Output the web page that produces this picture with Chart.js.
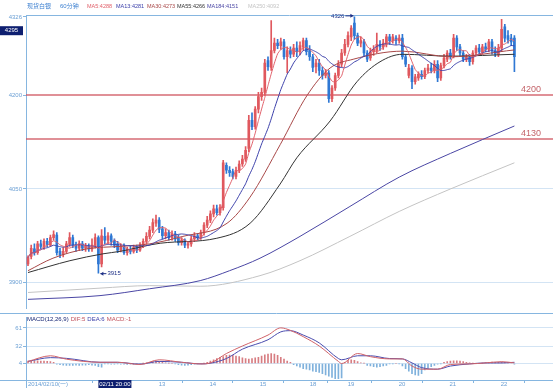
<!DOCTYPE html>
<html>
<head>
<meta charset="utf-8">
<script src="https://cdn.jsdelivr.net/npm/chart.js@4.4.0/dist/chart.umd.min.js"></script>
<style>
  body { margin: 0; background: #fff; }
  #wrap { position: relative; width: 553px; height: 388px; }
  canvas { position: absolute; left: 0; }
</style>
</head>
<body>
<div id="wrap">
  <canvas id="priceChart" width="553" height="313" style="top:0"></canvas>
  <canvas id="macdChart" width="553" height="75" style="top:313px"></canvas>
</div>
<script>
// hourly candles, 02/10 .. 02/22
const openP = [
  3930, 3942, 3954, 3948, 3962, 3957, 3966, 3960, 3972, 3976, 3950, 3945, 3950, 3961, 3972, 3960, 3955, 3962, 3955, 3958,
  3954, 3959, 3972, 3930, 3974, 3968, 3975, 3966, 3962, 3952, 3958, 3948, 3953, 3950, 3956, 3952, 3960, 3966, 3974, 3984,
  3995, 4000, 3986, 3975, 3980, 3972, 3978, 3972, 3964, 3968, 3960, 3962, 3970, 3975, 3972, 3980, 3992, 4000, 4010, 4018,
  4012, 4020, 4088, 4080, 4078, 4070, 4080, 4090, 4098, 4115, 4160, 4150, 4178, 4198, 4205, 4256, 4245, 4272, 4284, 4280,
  4286, 4262, 4272, 4266, 4276, 4270, 4278, 4288, 4272, 4262, 4246, 4252, 4240, 4232, 4236, 4195, 4212, 4232, 4250, 4268,
  4282, 4294, 4316, 4296, 4284, 4286, 4268, 4260, 4270, 4272, 4282, 4278, 4282, 4294, 4288, 4292, 4288, 4292, 4262, 4232,
  4244, 4222, 4228, 4234, 4230, 4240, 4244, 4240, 4250, 4228, 4248, 4258, 4268, 4264, 4292, 4278, 4268, 4258, 4262, 4254,
  4268, 4276, 4270, 4278, 4274, 4286, 4272, 4266, 4276, 4310, 4296, 4292, 4292
];
const highP = [
  3943, 3960, 3962, 3966, 3968, 3970, 3971, 3976, 3983, 3980, 3955, 3956, 3966, 3980, 3976, 3965, 3967, 3966, 3963, 3962,
  3970, 3978, 3975, 3985, 3988, 3980, 3978, 3970, 3966, 3962, 3962, 3957, 3958, 3960, 3960, 3964, 3970, 3980, 3990, 4002,
  4008, 4004, 3990, 3986, 3984, 3983, 3982, 3976, 3972, 3970, 3966, 3974, 3980, 3978, 3984, 3996, 4006, 4015, 4024, 4024,
  4025, 4096, 4092, 4086, 4082, 4085, 4095, 4104, 4118, 4168, 4172, 4182, 4205, 4212, 4258, 4262, 4320, 4292, 4290, 4292,
  4290, 4278, 4278, 4282, 4286, 4286, 4292, 4292, 4280, 4266, 4258, 4258, 4246, 4242, 4240, 4216, 4236, 4256, 4274, 4290,
  4302, 4312, 4326, 4300, 4294, 4290, 4272, 4276, 4280, 4300, 4288, 4290, 4298, 4298, 4298, 4296, 4297, 4298, 4266, 4250,
  4248, 4234, 4238, 4240, 4244, 4250, 4252, 4256, 4256, 4252, 4266, 4272, 4274, 4298, 4296, 4282, 4272, 4266, 4266, 4272,
  4280, 4282, 4282, 4284, 4290, 4290, 4278, 4282, 4322, 4314, 4304, 4298, 4296
];
const lowP = [
  3927, 3938, 3944, 3945, 3954, 3953, 3957, 3958, 3968, 3944, 3940, 3941, 3947, 3958, 3956, 3950, 3951, 3951, 3950, 3950,
  3950, 3955, 3915, 3925, 3962, 3962, 3960, 3956, 3948, 3949, 3945, 3944, 3946, 3947, 3948, 3950, 3956, 3962, 3970, 3980,
  3990, 3980, 3970, 3970, 3968, 3968, 3966, 3960, 3960, 3956, 3955, 3958, 3966, 3968, 3969, 3976, 3988, 3996, 4005, 4008,
  4008, 4016, 4075, 4070, 4066, 4066, 4076, 4086, 4094, 4110, 4145, 4146, 4172, 4192, 4200, 4240, 4240, 4268, 4275, 4274,
  4258, 4236, 4260, 4262, 4262, 4265, 4272, 4265, 4256, 4238, 4236, 4232, 4226, 4228, 4189, 4190, 4208, 4228, 4246, 4264,
  4278, 4288, 4290, 4280, 4278, 4262, 4254, 4256, 4264, 4268, 4272, 4274, 4278, 4282, 4284, 4282, 4284, 4258, 4246, 4228,
  4211, 4218, 4224, 4226, 4227, 4236, 4236, 4236, 4222, 4224, 4244, 4254, 4258, 4260, 4272, 4264, 4254, 4254, 4248, 4250,
  4264, 4266, 4266, 4270, 4270, 4266, 4262, 4262, 4270, 4286, 4284, 4280, 4238
];
const closeP = [
  3940, 3955, 3948, 3962, 3958, 3966, 3961, 3972, 3977, 3948, 3944, 3950, 3962, 3972, 3960, 3955, 3962, 3955, 3958, 3954,
  3960, 3972, 3930, 3975, 3968, 3975, 3966, 3960, 3952, 3958, 3948, 3953, 3950, 3956, 3952, 3960, 3966, 3974, 3984, 3996,
  4000, 3985, 3975, 3980, 3972, 3978, 3970, 3964, 3968, 3960, 3962, 3970, 3975, 3972, 3980, 3992, 4000, 4010, 4018, 4012,
  4020, 4092, 4080, 4076, 4070, 4080, 4090, 4098, 4112, 4160, 4150, 4178, 4198, 4205, 4252, 4246, 4272, 4284, 4280, 4286,
  4262, 4272, 4266, 4276, 4270, 4280, 4288, 4270, 4262, 4245, 4252, 4240, 4232, 4236, 4195, 4212, 4232, 4250, 4268, 4282,
  4296, 4308, 4296, 4284, 4288, 4268, 4258, 4270, 4274, 4282, 4278, 4284, 4294, 4288, 4294, 4288, 4292, 4262, 4250, 4244,
  4222, 4230, 4234, 4230, 4240, 4244, 4240, 4250, 4228, 4248, 4260, 4268, 4262, 4292, 4278, 4268, 4258, 4262, 4254, 4268,
  4276, 4270, 4278, 4274, 4286, 4272, 4266, 4276, 4306, 4292, 4290, 4286, 4262
];

// slow averages: [candle index, value]
const ma30Pts = [[0, 3919], [7.8, 3939], [18.4, 3954], [28.8, 3958], [38, 3962], [48.4, 3974], [62.2, 3995],
  [69.4, 4037], [78.8, 4121], [87.2, 4200], [94.4, 4244], [101.6, 4258], [117, 4271], [132, 4262], [152, 4273]];
const ma55Pts = [[0, 3916], [13.1, 3935], [23.4, 3946], [28.8, 3950], [41.3, 3963], [59, 3971], [69.4, 3995],
  [78.8, 4058], [84, 4100], [94.4, 4159], [102.8, 4222], [110, 4254], [117, 4266], [132, 4263], [152, 4266]];
const ma184Pts = [[0, 3873], [22.5, 3879], [38, 3890], [53.8, 3903], [63, 3919], [72.5, 3939], [85, 3974],
  [100.6, 4022], [116, 4069], [132, 4107], [152, 4151]];
const ma250Pts = [[0, 3884], [22.5, 3891], [38, 3895], [53.8, 3894], [72.5, 3911], [85, 3935], [100.6, 3974],
  [116, 4014], [132, 4050], [152, 4092]];

const maNames = ["MA5", "MA13", "MA30", "MA55", "MA184", "MA250"];
const maLast = [4288, 4281, 4273, 4266, 4151, 4092];
const levels = [4200, 4130];
const priceTicks = [3900, 4050, 4200, 4326];
const cursorPrice = 4295;
const cursorIdx = 22;
const cursorLabel = "02/11 20:00";

const dayTicks = [0, 40.3, 56.2, 71.9, 87.5, 99.4, 115.3, 131.2, 147.2];
const dayLabels = ["2014/02/10(一)", " 13", " 14", " 15", " 18", " 19", " 20", " 21", " 22"];

// MACD panel
const macdTicks = [4, 32, 61];
const macdHist = [
  8, 8.5, 8.5, 8.5, 8, 8, 7.5, 7, 6,
  3, 2, 1.5, 1, 1, 1, 1.5, 1, 1.5, 1.5, 2, 1.5, 1,
  -1, -2,
  3.5, 3.5, 3, 3, 3.5, 3, 3, 2.5, 3, 3, 3.5, 3.5, 4.5,
  5, 6, 7, 7.5, 7, 6, 5,
  4.5, 4, 3.5,
  2, 1.5, 1, 1.5, 2,
  3, 3.5, 4, 4.5,
  6, 8, 10, 12, 14, 15,
  17, 17.5, 17, 16,
  15, 13, 12, 11, 12, 13, 14,
  16, 18, 19, 20, 19, 17,
  14, 11, 8, 6,
  2, 0, -2, -4, -5, -6, -8, -9, -10, -12, -14, -16, -18, -20, -20, -19,
  6, 9, 10, 9, 7, 5, 4.5,
  1, 0, -1, -2, -1, 0, 1,
  3.5, 3.5, 4, 3.5,
  0, -4, -8, -12, -14, -15, -12,
  -6, -3, -1, 1, 3, 3.5,
  6, 7, 8, 8.5, 8.5, 8, 7, 6, 5,
  4.5, 4, 4, 4.5,
  5.5, 6, 6.5, 6, 6, 6.5,
  6, 5.5, 5, 3
];
const difPts = [[0, 7.4], [7, 16.4], [12, 11], [22.5, 6], [28, 6], [35, 2.5], [41, 10], [48, 6], [54, 3.4],
  [57, 5], [62, 20], [67, 32], [75, 49.5], [79, 61], [82, 57], [86, 47], [91, 32], [97, 7.4], [98, 4],
  [103, 20], [107, 15], [113, 11.4], [117, 11.4], [120, 0], [123, -5], [128, -5], [132, 2.5], [138, 3.4],
  [143, 5], [148, 7], [152, 5]];
const deaPts = [[0, 7.4], [7, 13.4], [12, 12.3], [22.5, 6], [28, 6], [35, 3], [41, 7.4], [48, 6], [54, 3.4],
  [57, 4.5], [62, 12], [67, 27], [75, 42], [79, 54.6], [82, 56.5], [86, 49.5], [91, 37], [97, 12], [98, 10],
  [103, 16.4], [107, 16.4], [113, 12], [117, 11.4], [120, 5], [123, -2.5], [128, -5], [132, 0], [138, 3.4],
  [143, 5], [148, 5], [152, 6]];
const macdTitle = ["MACD(12,26,9)", "DIF:5", "DEA:6", "MACD:-1"];

const upColor = "#e0585e";
const downColor = "#2f78d4";
const levelColor = "rgba(206, 80, 92, 0.85)";
const maColors = ["#e0606a", "#3c40aa", "#a84848", "#333333", "#4a46a4", "#c4c4c4"];
const tickColor = "#6a9fd4";
const gridColor = "#d3e4f4";
const axisColor = "#86b6e0";
const navy = "#0e1f70";
const tinyFont = '6px "Liberation Sans", "Noto Sans CJK SC"';
const headFont = '5.5px "Liberation Sans", "Noto Sans CJK SC"';
const xMin = -0.625, xMax = 164.06;

function movingAvg(arr, n) {
  return arr.map((_, i) => {
    const s = arr.slice(Math.max(0, i - n + 1), i + 1);
    return s.reduce((a, b) => a + b, 0) / s.length;
  });
}
const toXY = pts => pts.map(([x, y]) => ({ x, y }));
const idx = closeP.map((_, i) => i);
const candleColors = idx.map(i => (closeP[i] >= openP[i] ? upColor : downColor));

function lineSet(data, color, smooth) {
  return {
    type: "line", data, borderColor: color, borderWidth: 1, pointRadius: 0,
    tension: smooth ? 0.4 : 0.15, cubicInterpolationMode: smooth ? "monotone" : "default", order: 1,
  };
}

const priceOverlay = {
  id: "priceOverlay",
  beforeDatasetsDraw(chart) {
    // support / resistance lines
    const { ctx, chartArea, scales } = chart;
    ctx.save();
    ctx.strokeStyle = levelColor;
    ctx.lineWidth = 1.6;
    levels.forEach(v => {
      const y = Math.round(scales.y.getPixelForValue(v));
      ctx.beginPath();
      ctx.moveTo(chartArea.left, y);
      ctx.lineTo(chartArea.right, y);
      ctx.stroke();
    });
    ctx.restore();
  },
  afterDraw(chart) {
    const { ctx, chartArea, scales } = chart;
    const xs = scales.x, ys = scales.y;
    ctx.save();
    ctx.strokeStyle = axisColor;
    ctx.lineWidth = 1;
    ctx.beginPath();
    ctx.moveTo(chartArea.left, chartArea.top + 0.5);
    ctx.lineTo(chartArea.right, chartArea.top + 0.5);
    ctx.stroke();

    // header
    const headX = [27, 60, 87, 116, 147, 177, 207, 248];
    const head = [["现货白银", "#3b7fd0"], ["60分钟", "#3b7fd0"]]
      .concat(maNames.map((n, k) => [n + ":" + maLast[k], maColors[k]]));
    ctx.textBaseline = "middle";
    ctx.textAlign = "left";
    head.forEach(([t, c], k) => {
      ctx.font = k < 2 ? tinyFont : headFont;
      ctx.fillStyle = c;
      ctx.fillText(t, headX[k], 6.5);
    });

    // level labels
    ctx.font = '9px "Liberation Sans"';
    ctx.fillStyle = "#c4646a";
    ctx.textAlign = "right";
    ctx.textBaseline = "bottom";
    levels.forEach(v => ctx.fillText(String(v), 541, ys.getPixelForValue(v) - 1));

    // high / low markers
    ctx.font = tinyFont;
    ctx.fillStyle = ctx.strokeStyle = "#1d2f86";
    ctx.lineWidth = 1;
    ctx.textBaseline = "middle";
    const hi = Math.max(...highP), hiI = highP.indexOf(hi);
    let px = xs.getPixelForValue(hiI), py = ys.getPixelForValue(hi) - 1;
    ctx.beginPath(); ctx.moveTo(px - 9, py); ctx.lineTo(px - 1, py); ctx.stroke();
    ctx.beginPath(); ctx.moveTo(px - 1, py); ctx.lineTo(px - 4, py - 2); ctx.lineTo(px - 4, py + 2); ctx.fill();
    ctx.textAlign = "right";
    ctx.fillText(String(hi), px - 10, py);

    const lo = Math.min(...lowP), loI = lowP.indexOf(lo);
    px = xs.getPixelForValue(loI); py = ys.getPixelForValue(lo) + 0.5;
    ctx.beginPath(); ctx.moveTo(px + 2, py); ctx.lineTo(px + 8, py); ctx.stroke();
    ctx.beginPath(); ctx.moveTo(px + 2, py); ctx.lineTo(px + 5, py - 2); ctx.lineTo(px + 5, py + 2); ctx.fill();
    ctx.textAlign = "left";
    ctx.fillText(String(lo), px + 9, py);

    // cursor price box
    const cy = ys.getPixelForValue(cursorPrice);
    ctx.fillStyle = navy;
    ctx.fillRect(0, cy - 10, 23, 9);
    ctx.fillStyle = "#ffffff";
    ctx.textAlign = "center";
    ctx.fillText(String(cursorPrice), 11.5, cy - 5.5);
    ctx.restore();
  },
};

new Chart(document.getElementById("priceChart"), {
  type: "bar",
  data: {
    datasets: [
      lineSet(movingAvg(closeP, 5).map((y, x) => ({ x, y })), maColors[0], false),
      lineSet(movingAvg(closeP, 13).map((y, x) => ({ x, y })), maColors[1], false),
      lineSet(toXY(ma30Pts), maColors[2], true),
      lineSet(toXY(ma55Pts), maColors[3], true),
      lineSet(toXY(ma184Pts), maColors[4], true),
      lineSet(toXY(ma250Pts), maColors[5], true),
      {
        type: "bar", data: idx.map(i => ({ x: i, y: [lowP[i], highP[i]] })),
        backgroundColor: candleColors, barThickness: 1, grouped: false, order: 5,
      },
      {
        type: "bar", data: idx.map(i => ({ x: i, y: [openP[i], closeP[i]] })),
        backgroundColor: candleColors, barThickness: 2, minBarLength: 1, grouped: false, order: 4,
      },
    ],
  },
  options: {
    responsive: false,
    animation: false,
    devicePixelRatio: 1,
    layout: { padding: { top: 15, left: 0, right: 0, bottom: 0 } },
    plugins: { legend: { display: false }, tooltip: { enabled: false } },
    scales: {
      x: { type: "linear", min: xMin, max: xMax, offset: false, display: false },
      y: {
        min: 3858.5,
        max: 4329,
        afterFit: s => { s.width = 26; },
        afterBuildTicks: s => { s.ticks = priceTicks.map(v => ({ value: v })); },
        ticks: { color: tickColor, font: { size: 6, family: "Liberation Sans" }, padding: 1, callback: v => String(v) },
        grid: {
          color: c => (c.tick && (c.tick.value === 4326 || c.tick.value === 4200) ? "rgba(0,0,0,0)" : gridColor),
          tickColor: axisColor, tickLength: 3,
        },
        border: { color: axisColor },
      },
    },
  },
  plugins: [priceOverlay],
});

const macdOverlay = {
  id: "macdOverlay",
  afterDraw(chart) {
    const { ctx, chartArea, scales } = chart;
    ctx.save();
    ctx.strokeStyle = axisColor;
    ctx.lineWidth = 1;
    ctx.beginPath();
    ctx.moveTo(0, 0.5); ctx.lineTo(553, 0.5);
    ctx.moveTo(0, chartArea.bottom + 0.5); ctx.lineTo(553, chartArea.bottom + 0.5);
    ctx.moveTo(chartArea.left + 0.5, chartArea.bottom); ctx.lineTo(chartArea.left + 0.5, 75);
    ctx.stroke();

    ctx.font = tinyFont;
    ctx.textBaseline = "middle";
    ctx.textAlign = "left";
    const colors = [navy, "#c0505a", "#3c40aa", "#c0505a"];
    let x = 27;
    macdTitle.forEach((t, k) => {
      ctx.fillStyle = colors[k];
      ctx.fillText(t, x, 6);
      x += ctx.measureText(t).width + 2;
    });

    const px = scales.x.getPixelForValue(cursorIdx);
    ctx.fillStyle = navy;
    ctx.fillRect(px, chartArea.bottom, 33, 8);
    ctx.fillStyle = "#ffffff";
    ctx.textAlign = "center";
    ctx.fillText(cursorLabel, px + 16.5, chartArea.bottom + 4.5);
    ctx.restore();
  },
};

new Chart(document.getElementById("macdChart"), {
  type: "bar",
  data: {
    datasets: [
      lineSet(toXY(difPts), "#d06268", true),
      lineSet(toXY(deaPts), "#4a4cae", true),
      {
        type: "bar", data: macdHist.map((y, x) => ({ x, y })), base: 4,
        backgroundColor: macdHist.map(v => (v >= 4 ? "#d77d82" : "#7fb1dc")),
        barThickness: 1, grouped: false, order: 5,
      },
    ],
  },
  options: {
    responsive: false,
    animation: false,
    devicePixelRatio: 1,
    layout: { padding: 0 },
    plugins: { legend: { display: false }, tooltip: { enabled: false } },
    scales: {
      x: {
        type: "linear", min: xMin, max: xMax, offset: false,
        afterFit: s => { s.height = 8; },
        afterBuildTicks: s => { s.ticks = dayTicks.map(v => ({ value: v })); },
        ticks: {
          autoSkip: false, maxRotation: 0, minRotation: 0, align: "start", padding: -2,
          color: tickColor, font: { size: 6, family: "Liberation Sans" },
          callback: (v, i) => dayLabels[i],
        },
        grid: { drawOnChartArea: false, tickLength: 3, color: axisColor },
        border: { color: axisColor },
      },
      y: {
        min: -22.3,
        max: 77.4,
        afterFit: s => { s.width = 26; },
        afterBuildTicks: s => { s.ticks = macdTicks.map(v => ({ value: v })); },
        ticks: { color: tickColor, font: { size: 6, family: "Liberation Sans" }, padding: 1, callback: v => String(v) },
        grid: { color: gridColor, tickColor: axisColor, tickLength: 3 },
        border: { color: axisColor },
      },
    },
  },
  plugins: [macdOverlay],
});
</script>
</body>
</html>
